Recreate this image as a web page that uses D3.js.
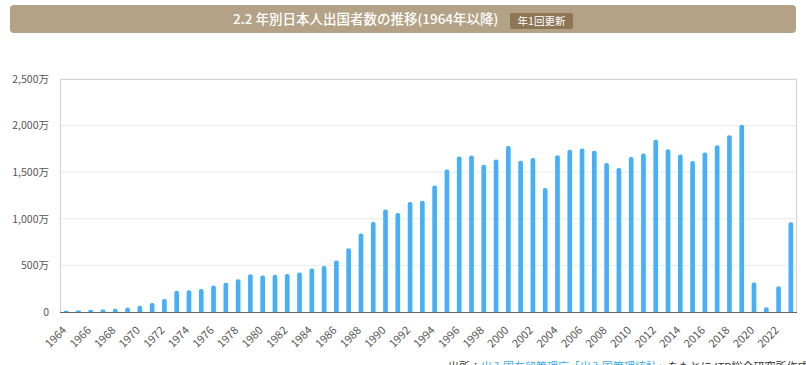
<!DOCTYPE html>
<html>
<head>
<meta charset="utf-8">
<script src="https://cdn.jsdelivr.net/npm/d3@7"></script>
<style>
  body { margin: 0; background: #fff; }
  svg { display: block; font-family: "Noto Sans CJK JP", "Noto Sans", sans-serif; }
</style>
</head>
<body>
<svg id="chart" width="806" height="365"></svg>
<script>
// 年別日本人出国者数 (単位: 万人)
const years = d3.range(1964, 2024);
const travelers = [
  12.8, 15.9, 21.2, 26.8, 34.4, 49.3, 66.3, 96.1, 139.2, 228.9,
  233.6, 246.6, 285.3, 315.1, 352.5, 403.8, 390.9, 400.6, 408.6, 423.2,
  465.9, 494.8, 551.6, 682.9, 842.7, 966.3, 1099.7, 1063.4, 1179.1, 1193.4,
  1357.9, 1529.8, 1669.5, 1680.3, 1580.6, 1635.8, 1781.9, 1621.6, 1652.3, 1329.6,
  1683.1, 1740.4, 1753.5, 1729.5, 1598.7, 1544.6, 1663.7, 1699.4, 1849.1, 1747.3,
  1690.3, 1621.4, 1711.6, 1788.9, 1895.4, 2008.1, 317.4, 51.2, 277.2, 962.2
];
const yTicks = [0, 500, 1000, 1500, 2000, 2500];
const title = "2.2 年別日本人出国者数の推移(1964年以降)";
const badge = "年1回更新";

const svg = d3.select("#chart");
const margin = { top: 79, right: 9, bottom: 53, left: 60 };
const width = 806 - margin.left - margin.right;
const height = 365 - margin.top - margin.bottom;

// header bar
const header = svg.append("g");
header.append("rect")
  .attr("x", 10).attr("y", 5).attr("width", 786).attr("height", 28)
  .attr("rx", 4).attr("fill", "#b3a286");
header.append("text")
  .attr("x", 233).attr("y", 24)
  .attr("fill", "#fff")
  .style("font-size", "13.5px")
  .style("font-weight", 500)
  .text(title);
header.append("rect")
  .attr("x", 510).attr("y", 13).attr("width", 63).attr("height", 16)
  .attr("rx", 2).attr("fill", "#8c7655");
header.append("text")
  .attr("x", 541.5).attr("y", 25)
  .attr("text-anchor", "middle")
  .attr("fill", "#fff")
  .style("font-size", "10.5px")
  .text(badge);

const g = svg.append("g").attr("transform", `translate(${margin.left},${margin.top})`);

const x = d3.scaleBand().domain(years).range([0, width]).paddingInner(0.62).paddingOuter(0.31);
const y = d3.scaleLinear().domain([0, 2500]).range([height, 0]);

// grid
g.append("g")
  .selectAll("line")
  .data(yTicks.filter(d => d > 0))
  .join("line")
  .attr("x1", 0).attr("x2", width)
  .attr("y1", d => y(d)).attr("y2", d => y(d))
  .attr("stroke", "#ebebeb");

// frame (left, top, right)
g.append("path")
  .attr("d", `M0.5,${height}V0.5H${width - 0.5}V${height}`)
  .attr("fill", "none").attr("stroke", "#d0d0d0");

// y axis labels
const yAxis = g.append("g")
  .call(d3.axisLeft(y).tickValues(yTicks).tickSize(0).tickPadding(11)
    .tickFormat(d => d === 0 ? "0" : d3.format(",")(d) + "万"));
yAxis.select(".domain").remove();
yAxis.selectAll("text")
  .attr("fill", "#555")
  .style("font-size", "10.5px")
  .style("font-family", "\"Noto Sans CJK JP\", sans-serif");

// bars with rounded tops
const r = 2;
g.append("g")
  .selectAll("path")
  .data(years.map((yr, i) => ({ yr, v: travelers[i] })))
  .join("path")
  .attr("fill", "#45b0f8")
  .attr("d", d => {
    const x0 = x(d.yr), w = x.bandwidth(), y0 = y(d.v), b = y(0);
    const rr = Math.min(r, (b - y0) / 2, w / 2);
    return `M${x0},${b}V${y0 + rr}Q${x0},${y0} ${x0 + rr},${y0}H${x0 + w - rr}Q${x0 + w},${y0} ${x0 + w},${y0 + rr}V${b}Z`;
  });

// x axis
const xAxis = g.append("g")
  .attr("transform", `translate(0,${height})`)
  .call(d3.axisBottom(x).tickValues(years.filter(d => d % 2 === 0)).tickSize(0).tickPadding(0));
xAxis.select(".domain")
  .attr("d", `M0,0.5H${width}`)
  .attr("stroke", "#666").attr("stroke-width", 1.2);
xAxis.selectAll("text")
  .attr("fill", "#555")
  .attr("text-anchor", "end")
  .attr("dy", null)
  .attr("y", 0)
  .attr("transform", "translate(1,19) rotate(-45)")
  .style("font-size", "11px")
  .style("font-family", "\"Noto Sans CJK JP\", sans-serif");

// source note (partly cut off at the bottom edge, as in the original)
const note = svg.append("text")
  .attr("x", 448).attr("y", 371)
  .style("font-size", "11px")
  .attr("fill", "#333");
note.append("tspan").text("出所：");
note.append("tspan").attr("fill", "#3ea9e6").text("出入国在留管理庁「出入国管理統計」");
note.append("tspan").text("をもとにJTB総合研究所作成");
</script>
</body>
</html>
